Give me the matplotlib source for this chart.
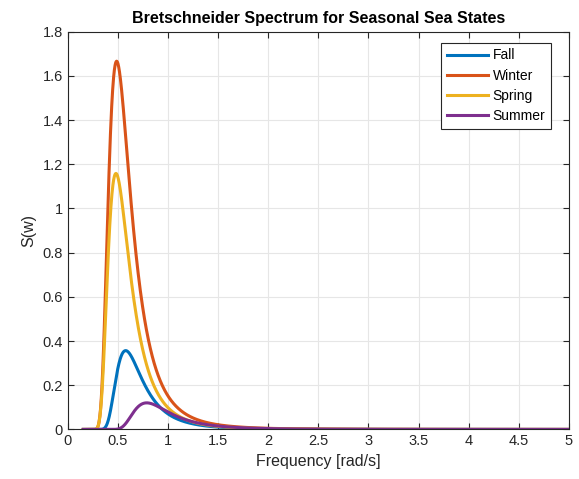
import numpy as np
import matplotlib
matplotlib.use("Agg")
import matplotlib.pyplot as plt

plt.rcParams['font.family'] = ['Liberation Sans', 'DejaVu Sans']

# Seasonal sea-state parameters: significant wave height [m] and peak frequency [rad/s]
seasons = ["Fall", "Winter", "Spring", "Summer"]
Hs = [1.52, 3.02, 2.5, 1.03]
wp = [0.58, 0.49, 0.483, 0.79]
colors = ["#0072BD", "#D95319", "#EDB120", "#7E2F8E"]

w = np.linspace(2 * np.pi / 40, 5, 2000)


def bretschneider(w, hs, wpk):
    return (5.0 / 16.0) * hs**2 * wpk**4 / w**5 * np.exp(-1.25 * (wpk / w)**4)


fig = plt.figure(figsize=(5.79, 4.79), dpi=100)
ax = fig.add_axes([0.1166, 0.1035, 0.866, 0.8303])

for name, hs, wpk, c in zip(seasons, Hs, wp, colors):
    ax.plot(w, bretschneider(w, hs, wpk), color=c, lw=2.2, label=name)

ax.set_xlim(0, 5)
ax.set_ylim(0, 1.8)
ax.set_xticks(np.arange(0, 5.01, 0.5))
ax.set_xticklabels(["0", "0.5", "1", "1.5", "2", "2.5", "3", "3.5", "4", "4.5", "5"])
ax.set_yticks(np.arange(0, 1.81, 0.2))
ax.set_yticklabels(["0", "0.2", "0.4", "0.6", "0.8", "1", "1.2", "1.4", "1.6", "1.8"])

ax.grid(True, color="#e6e6e6", lw=0.8)
ax.set_axisbelow(True)
for s in ax.spines.values():
    s.set_color("#262626")
    s.set_linewidth(0.8)
ax.tick_params(direction="in", length=4, width=0.8, colors="#262626",
               labelsize=10.5, top=True, right=True, labeltop=False, labelright=False)

ax.set_xlabel("Frequency [rad/s]", fontsize=11.5, color="#262626")
ax.set_ylabel("S(w)", fontsize=11.5, color="#262626")
ax.set_title("Bretschneider Spectrum for Seasonal Sea States", fontsize=11.5,
             fontweight="bold", color="black", pad=6)

leg = ax.legend(loc="upper right", bbox_to_anchor=(0.964, 0.972), fontsize=10,
                fancybox=False, framealpha=1, edgecolor="#262626",
                handlelength=3.0, borderpad=0.4, labelspacing=0.45,
                handletextpad=0.3, borderaxespad=0)
leg.get_frame().set_linewidth(0.8)

fig.savefig("out.png", dpi=100)
